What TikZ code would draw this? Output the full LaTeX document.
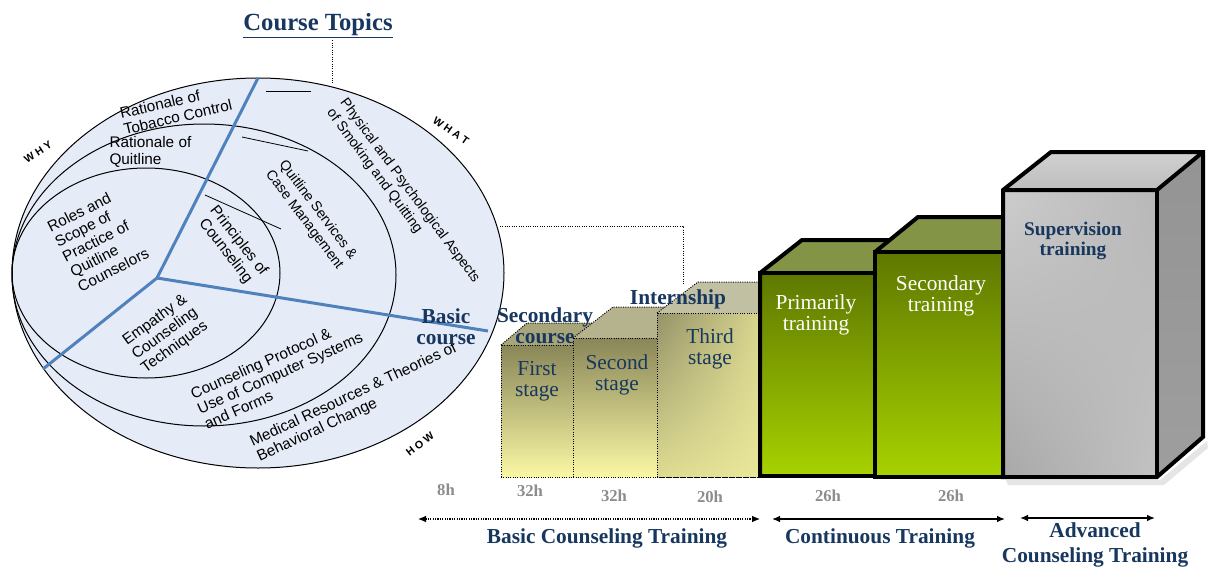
\documentclass[tikz,border=0pt]{standalone}
\usepackage{fontspec}
\setmainfont{Liberation Serif}
\setsansfont{Liberation Sans}
\usetikzlibrary{arrows.meta,shadings}

\definecolor{navy}{RGB}{23,55,94}
\definecolor{discfill}{RGB}{230,236,247}
\definecolor{spoke}{RGB}{79,129,189}
\definecolor{hours}{RGB}{140,140,140}
\definecolor{oliveTop}{RGB}{137,134,88}
\definecolor{oliveLow}{RGB}{250,248,165}
\definecolor{oliveFace}{RGB}{168,165,122}
\definecolor{greenTop}{RGB}{94,120,0}
\definecolor{greenLow}{RGB}{168,210,0}
\definecolor{greenFace}{RGB}{131,148,70}

\tikzset{every picture/.style={line width=0.75pt}}
\tikzset{
  topic/.style={font=\sffamily\fontsize{11.5}{12.5}\selectfont, inner sep=0pt},
  small topic/.style={font=\sffamily\fontsize{10.6}{12.5}\selectfont, inner sep=0pt},
  axis word/.style={font=\sffamily\bfseries\fontsize{8}{8}\selectfont, inner sep=0pt},
  level/.style={font=\bfseries\fontsize{16}{15.5}\selectfont, text=navy, align=center, inner sep=0pt},
  stage/.style={font=\fontsize{16}{15.5}\selectfont, text=navy, align=center, inner sep=0pt},
  hrs/.style={font=\bfseries\fontsize{12.5}{13}\selectfont, text=hours, inner sep=0pt},
  spokeline/.style={draw=spoke, line width=2.25pt},
  leader/.style={densely dotted, line width=0.75pt},
  thinbox/.style={densely dotted, line width=0.75pt},
  thickbox/.style={line width=3pt, line join=miter},
  span/.style={{Latex[length=6pt,width=5pt]}-{Latex[length=6pt,width=5pt]}, line width=1.1pt}
}

\begin{document}
\begin{tikzpicture}[x=0.75pt,y=0.75pt,yscale=-1,xscale=1]
	\useasboundingbox (0,0) rectangle (1210,567);

	%Shape: Ellipse [outer disc]
	\draw [fill=discfill] (258,273) ellipse (246 and 195) ;
	%Shape: Ellipse [middle disc]
	\draw (204,275) ellipse (192 and 151) ;
	%Shape: Ellipse [inner disc]
	\draw (146,273) ellipse (134 and 105) ;

	%Straight Lines [spokes]
	\coordinate (hub) at (157,278) ;
	\coordinate (spoke n) at (258,78) ;
	\coordinate (spoke sw) at (43,369) ;
	\coordinate (spoke e) at (488,331) ;
	\draw [spokeline] (spoke n) -- (hub) -- (spoke sw) ;
	\draw [spokeline] (hub) -- (spoke e) ;

	%Straight Lines [short ticks]
	\draw [line width=0.6pt] (266,91) -- (311,91) ;
	\draw [line width=0.6pt] (242,137) -- (308,151) ;
	\draw [line width=0.6pt] (205,195) -- (281,229) ;

	% Text Node
	\node [topic, align=left, rotate=13] (tobacco) at (176,109) {Rationale of\\Tobacco Control};
	% Text Node
	\node [topic, align=left, anchor=west] (quitline) at (109,152) {Rationale of\\Quitline};
	% Text Node
	\node [topic, align=left, rotate=27] (roles) at (98,240) {Roles and\\Scope of\\Practice of\\Quitline\\Counselors};
	% Text Node
	\node [topic, align=center, rotate=-52] (principles) at (232,246) {Principles of\\Counseling};
	% Text Node
	\node [small topic, align=center, rotate=-53] (services) at (311,215) {Quitline Services \&\\Case Management};
	% Text Node
	\node [small topic, align=left, rotate=-53.5] (physical) at (403,196) {Physical and Psychological Aspects\\of Smoking and Quitting};
	% Text Node
	\node [topic, align=center, rotate=36] (empathy) at (165,334) {Empathy \&\\Counseling\\Techniques};
	% Text Node
	\node [topic, align=left, rotate=24] (protocol) at (280,373) {Counseling Protocol \&\\Use of Computer Systems\\and Forms};
	% Text Node
	\node [topic, align=left, rotate=25] (medical) at (357,403) {Medical Resources \& Theories of\\Behavioral Change};

	% Text Node
	\node [axis word, rotate=33] (why) at (38,152) {W H Y};
	% Text Node
	\node [axis word, rotate=-35] (what) at (451,131) {W H A T};
	% Text Node
	\node [axis word, rotate=38] (how) at (420,444) {H O W};

	% Text Node
	\node [font=\bfseries\fontsize{18.5}{20}\selectfont, text=navy, inner sep=1pt] (topics) at (318,26) {\underline{Course Topics}};
	\coordinate (rim top) at (332,84) ;
	\draw [leader] (topics.south -| rim top) -- (rim top) ;

	%Shape: Box [first stage]
	\fill [oliveFace] (501,345) -- (527,323) -- (599,323) -- (573,345) -- cycle ;
	\draw [thinbox] (501,345) -- (527,323) -- (599,323) ;
	\shade [top color=oliveTop, bottom color=oliveLow] (501,345) rectangle (573,477) ;
	\draw [thinbox] (501,477) -- (501,345) -- (573,345) ;
	%Shape: Box [second stage]
	\fill [oliveFace!85!white] (573,338) -- (613,307) -- (697,307) -- (657,338) -- cycle ;
	\draw [thinbox] (573,338) -- (613,307) -- (697,307) ;
	\shade [top color=oliveTop, bottom color=oliveLow] (573,338) rectangle (657,477) ;
	\draw [thinbox] (573,477) -- (573,338) -- (657,338) ;
	%Shape: Box [third stage]
	\fill [oliveFace!70!white] (657,313) -- (698,282) -- (801,282) -- (760,313) -- cycle ;
	\draw [thinbox] (657,313) -- (698,282) -- (801,282) ;
	\shade [upper left=oliveTop!90!white, upper right=oliveLow!70!oliveTop, lower left=oliveLow!75!oliveTop, lower right=oliveLow!85!oliveTop] (657,313) rectangle (760,477) ;
	\draw [thinbox] (657,313) rectangle (760,477) ;
	\draw [thinbox] (501,477) -- (780,477) ;

	%Shape: Box [primarily training]
	\fill [greenFace] (760,273) -- (802,240) -- (917,240) -- (875,273) -- cycle ;
	\shade [top color=greenTop, bottom color=greenLow] (760,273) rectangle (875,476) ;
	\draw [thickbox] (760,476) -- (760,273) -- (802,240) -- (917,240) ;
	\draw [thickbox] (760,273) rectangle (875,476) ;
	%Shape: Box [secondary training]
	\fill [greenFace] (875,252) -- (918,217) -- (1046,217) -- (1003,252) -- cycle ;
	\shade [top color=greenTop, bottom color=greenLow] (875,252) rectangle (1003,477) ;
	\draw [thickbox] (875,252) -- (918,217) -- (1046,217) ;
	\draw [thickbox] (875,252) rectangle (1003,477) ;
	%Shape: Box [supervision training]
	\fill [black, opacity=0.10] (1006,480) -- (1160,480) -- (1207,441) -- (1208,448) -- (1164,485) -- (1008,485) -- cycle ;
	\shade [top color=black!18, bottom color=black!26] (1003,190) -- (1051,152) -- (1203,152) -- (1157,190) -- cycle ;
	\shade [top color=black!42, bottom color=black!38] (1157,190) -- (1203,152) -- (1203,437) -- (1157,477) -- cycle ;
	\shade [upper left=black!20, upper right=black!28, lower left=black!34, lower right=black!24] (1003,190) rectangle (1157,477) ;
	\draw [thickbox] (1003,190) -- (1051,152) -- (1203,152) -- (1203,437) -- (1157,477) -- (1003,477) -- cycle ;
	\draw [thickbox] (1003,190) -- (1157,190) -- (1203,152) ;
	\draw [thickbox] (1157,190) -- (1157,477) ;

	% Text Node
	\node [level] (basic) at (446,327) {Basic\\course};
	% Text Node
	\node [level] (secondary) at (545,326) {Secondary\\course};
	% Text Node
	\node [level] (intern) at (678,299) {Internship};
	\coordinate (rim east) at (500,226) ;
	\coordinate (stair top) at (683,284) ;
	\draw [leader] (rim east) -| (stair top) ;

	% Text Node
	\node [stage] (first) at (537,381) {First\\stage};
	% Text Node
	\node [stage] (second) at (617,375) {Second\\stage};
	% Text Node
	\node [stage] (third) at (710,349) {Third\\stage};
	% Text Node
	\node [stage, text=white] (primary) at (816,315) {Primarily\\training};
	% Text Node
	\node [stage, text=white] (sectrain) at (941,296) {Secondary\\training};
	% Text Node
	\node [level, font=\bfseries\fontsize{14.5}{15}\selectfont] (super) at (1073,241) {Supervision\\training};

	% Text Node
	\node [hrs] (h1) at (446,490) {8h};
	\node [hrs] (h2) at (530,491) {32h};
	\node [hrs] (h3) at (614,496) {32h};
	\node [hrs] (h4) at (710,497) {20h};
	\node [hrs] (h5) at (828,496) {26h};
	\node [hrs] (h6) at (951,496) {26h};

	%Straight Lines [spans]
	\coordinate (basic l) at (418,519) ;
	\coordinate (basic r) at (760,519) ;
	\coordinate (cont l) at (772,519) ;
	\coordinate (cont r) at (1005,519) ;
	\coordinate (adv l) at (1020,518) ;
	\coordinate (adv r) at (1155,518) ;
	\draw [span, line width=0.8pt, densely dotted] (basic l) -- (basic r) ;
	\draw [span] (cont l) -- (cont r) ;
	\draw [span] (adv l) -- (adv r) ;

	% Text Node
	\node [level] (basic train) at (607,538) {Basic Counseling Training};
	% Text Node
	\node [level] (cont train) at (880,538) {Continuous Training};
	% Text Node
	\node [level, font=\bfseries\fontsize{16}{19}\selectfont] (adv train) at (1095,545) {Advanced\\Counseling Training};

\end{tikzpicture}
\end{document}
